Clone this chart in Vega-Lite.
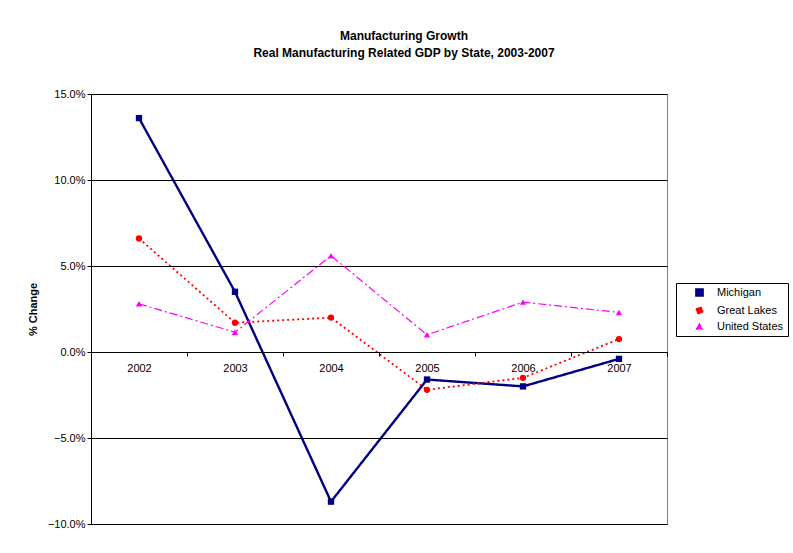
{
  "$schema": "https://vega.github.io/schema/vega-lite/v6.json",
  "width": 576,
  "height": 430,
  "autosize": {"type": "none"},
  "padding": {"left": 91, "top": 94, "right": 126, "bottom": 29},
  "background": "white",
  "title": {
    "text": ["Manufacturing Growth", "Real Manufacturing Related GDP by State, 2003-2007"],
    "font": "Liberation Sans",
    "fontSize": 12,
    "fontWeight": "bold",
    "color": "black",
    "lineHeight": 17,
    "anchor": "middle",
    "dx": 25,
    "offset": 28
  },
  "data": {
    "values": [
      {"year": "2002", "series": "Michigan", "value": 0.136},
      {"year": "2003", "series": "Michigan", "value": 0.035},
      {"year": "2004", "series": "Michigan", "value": -0.087},
      {"year": "2005", "series": "Michigan", "value": -0.016},
      {"year": "2006", "series": "Michigan", "value": -0.020},
      {"year": "2007", "series": "Michigan", "value": -0.004},
      {"year": "2002", "series": "Great Lakes", "value": 0.066},
      {"year": "2003", "series": "Great Lakes", "value": 0.017},
      {"year": "2004", "series": "Great Lakes", "value": 0.020},
      {"year": "2005", "series": "Great Lakes", "value": -0.022},
      {"year": "2006", "series": "Great Lakes", "value": -0.015},
      {"year": "2007", "series": "Great Lakes", "value": 0.0075},
      {"year": "2002", "series": "United States", "value": 0.028},
      {"year": "2003", "series": "United States", "value": 0.0115},
      {"year": "2004", "series": "United States", "value": 0.056},
      {"year": "2005", "series": "United States", "value": 0.010},
      {"year": "2006", "series": "United States", "value": 0.029},
      {"year": "2007", "series": "United States", "value": 0.023}
    ]
  },
  "encoding": {
    "x": {
      "field": "year",
      "type": "ordinal",
      "scale": {"type": "band", "paddingInner": 0, "paddingOuter": 0},
      "axis": {
        "title": null,
        "labelAngle": 0,
        "offset": -172,
        "tickBand": "extent",
        "domainColor": "black",
        "tickColor": "black",
        "tickSize": 4,
        "labelPadding": 6,
        "labelFont": "Liberation Sans",
        "labelFontSize": 11,
        "labelColor": "black",
        "grid": false,
        "zindex": 1
      }
    },
    "y": {
      "field": "value",
      "type": "quantitative",
      "scale": {"domain": [-0.10, 0.15], "nice": false, "zero": false},
      "axis": {
        "title": "% Change",
        "titleFont": "Liberation Sans",
        "titleFontSize": 11,
        "titleFontWeight": "bold",
        "titleColor": "black",
        "titlePadding": 9,
        "format": ".1%",
        "values": [-0.10, -0.05, 0, 0.05, 0.10, 0.15],
        "labelFont": "Liberation Sans",
        "labelFontSize": 11,
        "labelColor": "black",
        "domainColor": "black",
        "tickColor": "black",
        "tickSize": 4,
        "grid": true,
        "gridColor": "black",
        "gridOpacity": 1
      }
    },
    "color": {
      "field": "series",
      "type": "nominal",
      "sort": ["Michigan", "Great Lakes", "United States"],
      "scale": {"domain": ["Michigan", "Great Lakes", "United States"], "range": ["#000080", "#FF0000", "#FF00FF"]},
      "legend": {
        "title": null,
        "orient": "none",
        "legendX": 585,
        "legendY": 189,
        "strokeColor": "black",
        "padding": 4,
        "symbolOffset": 14,
        "labelOffset": 12,
        "labelFont": "Liberation Sans",
        "labelFontSize": 11,
        "labelColor": "black",
        "symbolSize": 40,
        "symbolStrokeWidth": 0,
        "rowPadding": 2,
        "fillColor": "white"
      }
    }
  },
  "layer": [
    {
      "mark": {"type": "line"},
      "encoding": {
        "strokeDash": {
          "field": "series",
          "type": "nominal",
          "scale": {"domain": ["Michigan", "Great Lakes", "United States"], "range": [[1, 0], [2, 3], [8, 3, 2, 3]]},
          "legend": null
        },
        "strokeWidth": {
          "field": "series",
          "type": "nominal",
          "scale": {"domain": ["Michigan", "Great Lakes", "United States"], "range": [2.4, 1.2, 1.2]},
          "legend": null
        }
      }
    },
    {
      "mark": {"type": "point", "filled": true, "opacity": 1, "size": 40},
      "encoding": {
        "shape": {
          "field": "series",
          "type": "nominal",
          "scale": {"domain": ["Michigan", "Great Lakes", "United States"], "range": ["square", "circle", "triangle-up"]},
          "legend": null
        }
      }
    }
  ],
  "config": {
    "view": {"stroke": "#808080", "strokeWidth": 1},
    "font": "Liberation Sans"
  }
}
